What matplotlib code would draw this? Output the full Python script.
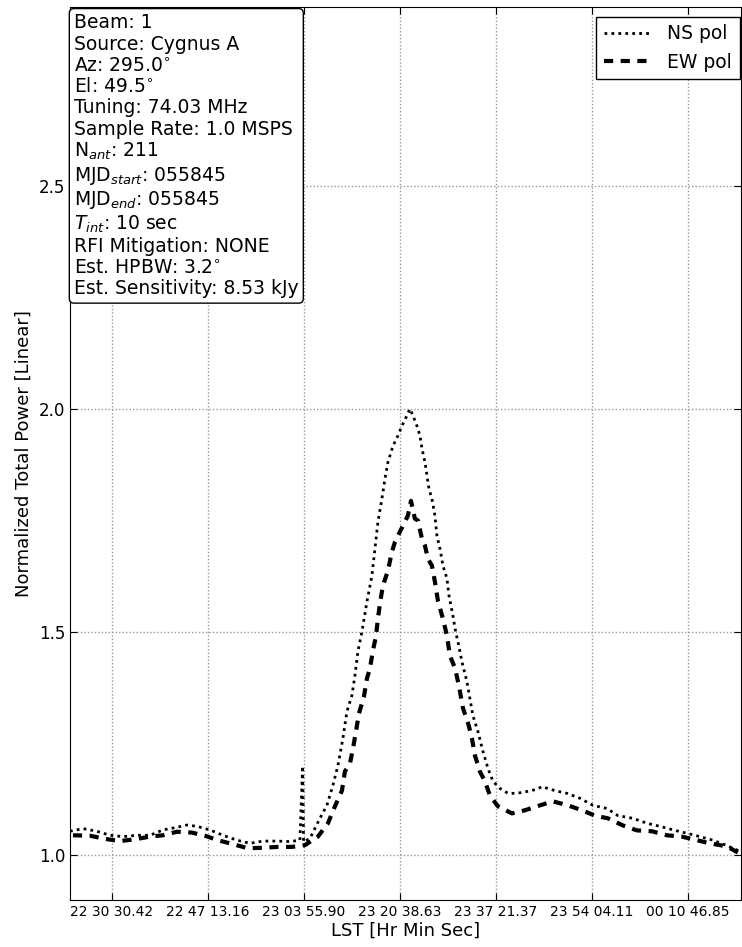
import matplotlib
matplotlib.use('Agg')
import matplotlib.pyplot as plt

# seconds since start of the observation, and normalized power
ns_t = [0, 136, 282, 418, 554, 700, 836, 971, 1118, 1222, 1327, 1462, 1598, 1744,
        1880, 2016, 2162, 2298, 2402, 2430, 2440, 2507, 2611, 2684, 2747, 2799, 2851,
        2893, 2945, 2977, 3008, 3050, 3102, 3154, 3186, 3217, 3259, 3290, 3322, 3374,
        3426, 3468, 3520, 3551, 3583, 3624, 3656, 3677, 3708, 3729, 3750, 3781, 3812,
        3833, 3865, 3896, 3938, 3959, 4000, 4032, 4053, 4094, 4147, 4178, 4209, 4262,
        4314, 4366, 4418, 4491, 4575, 4669, 4773, 4878, 4930, 5066, 5191, 5327, 5463,
        5609, 5724, 5880, 6027, 6163, 6319, 6455, 6580, 6716, 6862, 6998]
ns_pow = [1.054, 1.060, 1.054, 1.045, 1.042, 1.045, 1.045, 1.057, 1.063, 1.068, 1.065,
          1.057, 1.045, 1.034, 1.027, 1.032, 1.032, 1.031, 1.034, 1.200, 1.030, 1.038,
          1.083, 1.112, 1.157, 1.201, 1.262, 1.322, 1.358, 1.403, 1.457, 1.501, 1.568,
          1.626, 1.687, 1.747, 1.799, 1.843, 1.881, 1.917, 1.940, 1.962, 1.985, 2.000,
          1.985, 1.962, 1.940, 1.911, 1.881, 1.851, 1.821, 1.799, 1.761, 1.716, 1.687,
          1.649, 1.620, 1.582, 1.537, 1.497, 1.479, 1.434, 1.389, 1.351, 1.313, 1.277,
          1.233, 1.195, 1.166, 1.150, 1.139, 1.139, 1.143, 1.148, 1.154, 1.145, 1.139,
          1.128, 1.112, 1.105, 1.089, 1.083, 1.072, 1.065, 1.056, 1.049, 1.042, 1.034,
          1.022, 1.009]

ew_t = [31, 209, 366, 522, 679, 836, 971, 1118, 1274, 1410, 1546, 1703, 1859, 2016,
        2173, 2319, 2455, 2590, 2695, 2768, 2841, 2872, 2925, 2956, 2987, 3019, 3071,
        3102, 3133, 3165, 3196, 3217, 3238, 3269, 3322, 3363, 3395, 3447, 3499, 3530,
        3562, 3603, 3635, 3677, 3708, 3739, 3781, 3812, 3844, 3896, 3938, 3969, 4021,
        4063, 4105, 4136, 4167, 4199, 4230, 4282, 4335, 4387, 4470, 4617, 4752, 4909,
        5045, 5202, 5348, 5484, 5620, 5776, 5922, 6079, 6236, 6392, 6549, 6685, 6862,
        6998]
ew_pow = [1.045, 1.044, 1.037, 1.032, 1.036, 1.042, 1.045, 1.053, 1.051, 1.044, 1.034,
          1.025, 1.016, 1.017, 1.019, 1.019, 1.023, 1.042, 1.072, 1.110, 1.145, 1.188,
          1.206, 1.239, 1.277, 1.318, 1.356, 1.396, 1.418, 1.459, 1.490, 1.530, 1.564,
          1.604, 1.638, 1.680, 1.702, 1.725, 1.747, 1.761, 1.794, 1.754, 1.750, 1.709,
          1.694, 1.664, 1.649, 1.613, 1.570, 1.530, 1.492, 1.447, 1.420, 1.380, 1.330,
          1.310, 1.290, 1.262, 1.224, 1.188, 1.166, 1.134, 1.110, 1.094, 1.101, 1.112,
          1.121, 1.112, 1.101, 1.089, 1.083, 1.067, 1.056, 1.054, 1.045, 1.042, 1.034,
          1.027, 1.020, 1.004]

tick_pos = [439, 1441, 2444, 3447, 4450, 5452, 6455]
tick_labels = ['22 30 30.42', '22 47 13.16', '23 03 55.90', '23 20 38.63',
               '23 37 21.37', '23 54 04.11', '00 10 46.85']

info = ('Beam: 1\n'
        'Source: Cygnus A\n'
        'Az: 295.0$^{\\circ}$\n'
        'El: 49.5$^{\\circ}$\n'
        'Tuning: 74.03 MHz\n'
        'Sample Rate: 1.0 MSPS\n'
        'N$_{ant}$: 211\n'
        'MJD$_{start}$: 055845\n'
        'MJD$_{end}$: 055845\n'
        '$T_{int}$: 10 sec\n'
        'RFI Mitigation: NONE\n'
        'Est. HPBW: 3.2$^{\\circ}$\n'
        'Est. Sensitivity: 8.53 kJy')

plt.rcParams['font.family'] = ['DejaVu Sans']
plt.rcParams['mathtext.fontset'] = 'dejavusans'
plt.rcParams['lines.dotted_pattern'] = [1, 1.5]
plt.rcParams['lines.dashed_pattern'] = [2.2, 1.8]

fig = plt.figure(figsize=(7.42, 9.47), dpi=100)
ax = fig.add_axes([0.0943, 0.0496, 0.9044, 0.943])

ax.plot(ns_t, ns_pow, color='black', linestyle=':', linewidth=2, label='NS pol')
ax.plot(ew_t, ew_pow, color='black', linestyle='--', linewidth=3, label='EW pol')

ax.set_xlim(0, 7010)
ax.set_ylim(0.9, 2.9)
ax.set_yticks([1.0, 1.5, 2.0, 2.5])
ax.set_xticks(tick_pos)
ax.set_xticklabels(tick_labels, fontsize=10)
ax.tick_params(axis='y', labelsize=12)
ax.tick_params(direction='in', top=True, right=True, length=5)
ax.grid(True, color='0.6', linestyle=':', linewidth=1)

ax.set_xlabel('LST [Hr Min Sec]', fontsize=13, labelpad=2)
ax.set_ylabel('Normalized Total Power [Linear]', fontsize=13)

ax.text(0.006, 0.993, info, transform=ax.transAxes, fontsize=13.5, va='top', ha='left',
        linespacing=1.15,
        bbox=dict(boxstyle='round,pad=0.25', facecolor='white', edgecolor='black'))

leg = ax.legend(loc='upper right', bbox_to_anchor=(0.998, 0.989), borderaxespad=0,
                fontsize=13.5, fancybox=False, handlelength=2.6)
leg.get_frame().set_edgecolor('black')
leg.get_frame().set_alpha(1)

plt.savefig('out.png', dpi=100)
plt.close()
